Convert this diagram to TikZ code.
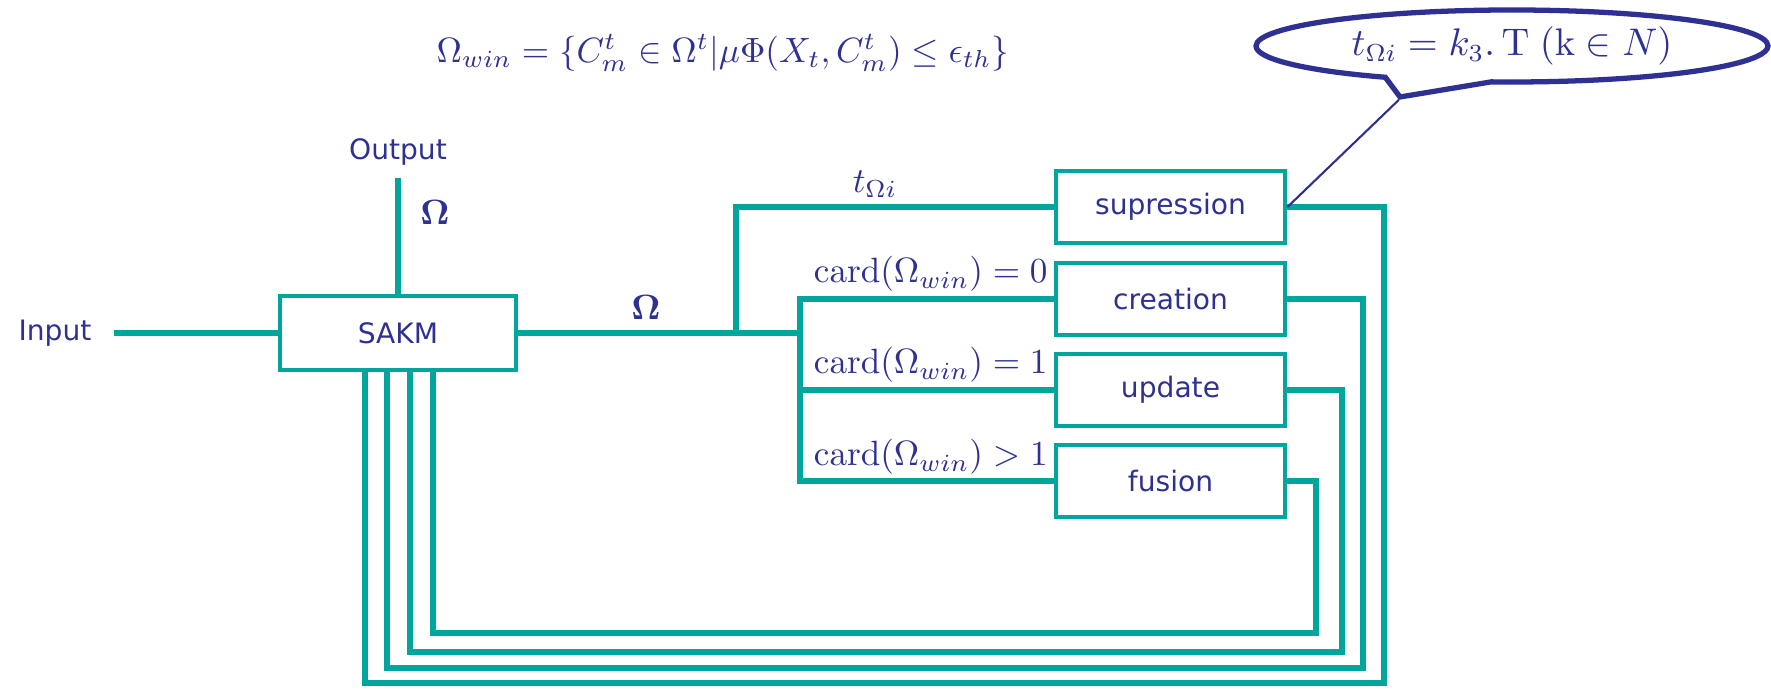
\documentclass[tikz,border=0pt]{standalone}
\usepackage{tikz}
\usetikzlibrary{positioning, shapes.callouts, calc}
\usepackage{amsmath}
\usepackage[no-math]{fontspec}
\newfontfamily\boxfont{DejaVu Sans}
\usepackage{xcolor}
\definecolor{skteal}{HTML}{00A59D}
\definecolor{sknavy}{HTML}{2E3192}

\begin{document}
\begin{tikzpicture}[
    wire/.style={draw=skteal, line width=1.7pt},
    block/.style={draw=skteal, fill=white, line width=1.4pt, text=sknavy,
                  font=\boxfont\fontsize{8}{10}\selectfont,
                  minimum width=2.29cm, minimum height=0.72cm},
    lbl/.style={text=sknavy, font=\boxfont\fontsize{8}{10}\selectfont},
    mlbl/.style={text=sknavy}]
  \useasboundingbox (0,0) rectangle (17.71,6.93);

  \node[mlbl, font=\fontsize{9.8}{12}\selectfont] (formula) at (7.23,6.40)
       {$\Omega_{win} = \{C_m^t \in \Omega^t | \mu\Phi(X_t, C_m^t) \leq \epsilon_{th}\}$};
  \node[ellipse callout, draw=sknavy, line width=1.5pt, fill=white, text=sknavy,
        inner sep=0pt, minimum width=5.12cm, minimum height=0.72cm,
        callout absolute pointer={(14.0,5.96)}, callout pointer arc=25,
        font=\fontsize{10.5}{12}\selectfont] (note) at (15.12,6.47)
       {$t_{\Omega i} = k_3.\,\mathrm{T}\;(\mathrm{k} \in N)$};

  \node[block, minimum width=2.36cm, minimum height=0.74cm] (sakm) at (3.98,3.60) {SAKM};
  \node[lbl] (input) at (0.55,3.60) {Input};
  \node[lbl] (output) at (3.98,5.41) {Output};
  \node[block] (supr) at (11.705,4.86) {supression};
  \node[block] (crea) at (11.705,3.94) {creation};
  \node[block] (upda) at (11.705,3.03) {update};
  \node[block] (fusi) at (11.705,2.12) {fusion};
  \coordinate (split) at (7.36,3.60);
  \coordinate (bus) at (8.00,3.60);

  % forward path
  \draw[wire, shorten <=0.1cm] (input.east) -- (sakm.west);
  \draw[wire] (sakm.north) -- (output.south);
  \draw[wire] (sakm.east) -- (bus);
  \draw[wire] (split) |- (supr.west);
  \draw[wire] (crea.west) -| (bus |- fusi.west) -- (fusi.west);
  \draw[wire] (bus |- upda.west) -- (upda.west);

  % feedback to SAKM
  \foreach \b/\xr/\yb/\xl in {supr/13.84/0.10/3.65, crea/13.63/0.25/3.87,
                             upda/13.42/0.41/4.10, fusi/13.16/0.60/4.33}
    \draw[wire] (\b.east) -| (\xr,\yb) -| (\xl,0 |- sakm.south);

  \node[mlbl] (omout) at (4.35,4.81) {$\boldsymbol{\Omega}$};
  \node[mlbl] (omsak) at (6.46,3.86) {$\boldsymbol{\Omega}$};
  \node[mlbl] (tlbl) at (8.75,5.09) {$t_{\Omega i}$};
  \node[mlbl, anchor=east] (card0) at (10.60,4.19) {$\mathrm{card}(\Omega_{win}) = 0$};
  \node[mlbl, anchor=east] (card1) at (10.60,3.28) {$\mathrm{card}(\Omega_{win}) = 1$};
  \node[mlbl, anchor=east] (card2) at (10.60,2.36) {$\mathrm{card}(\Omega_{win}) > 1$};

  \draw[sknavy, line width=0.6pt] (note.pointer) -- (supr.east);
\end{tikzpicture}
\end{document}
